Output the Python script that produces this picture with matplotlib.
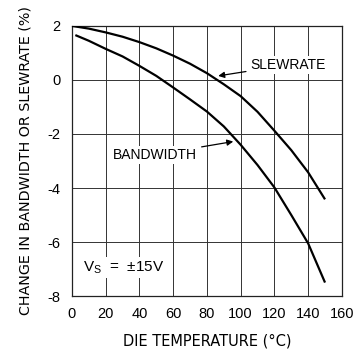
import matplotlib as mpl
mpl.use('agg')
import matplotlib.pyplot as plt

# values
temp_slew = [0, 10, 20, 30, 40, 50, 60, 70, 80, 90, 100, 110, 120, 130, 140, 150]
slewrate = [2.0, 1.9, 1.76, 1.6, 1.4, 1.17, 0.9, 0.6, 0.25, -0.16, -0.6, -1.18, -1.88, -2.6, -3.42, -4.42]

temp_bw = [2, 10, 20, 30, 40, 50, 60, 70, 80, 90, 100, 110, 120, 130, 140, 150]
bandwidth = [1.66, 1.45, 1.15, 0.87, 0.52, 0.15, -0.28, -0.72, -1.17, -1.72, -2.4, -3.15, -3.98, -5.0, -6.05, -7.5]

xticks = [0, 20, 40, 60, 80, 100, 120, 140, 160]
yticks = [2, 0, -2, -4, -6, -8]
ytick_labels = ["2", "0", "-2", "-4", "-6", "-8"]

plt.rc('font', family='Liberation Sans')

fig = plt.figure(figsize=(3.58, 3.55), dpi=100)
ax = fig.add_axes([0.201, 0.166, 0.754, 0.761])

ax.plot(temp_slew, slewrate, color='black', lw=1.6, solid_capstyle='butt', zorder=4)
ax.plot(temp_bw, bandwidth, color='black', lw=1.6, solid_capstyle='butt', zorder=4)

ax.set_xlim(0, 160)
ax.set_ylim(-8, 2)
ax.set_xticks(xticks)
ax.set_yticks(yticks)
ax.set_yticklabels(ytick_labels)
ax.tick_params(length=0, labelsize=10.5, colors='black')
ax.tick_params(axis='x', pad=8)
ax.tick_params(axis='y', pad=8)
ax.grid(True, color='#333333', lw=0.7)
for s in ax.spines.values():
    s.set_linewidth(0.9)
    s.set_color('#222222')

box = dict(facecolor='white', edgecolor='none', pad=1.5)
ax.annotate("SLEWRATE", xy=(86.7, 0.15), xytext=(106, 0.56),
            fontsize=10, va='center', ha='left', bbox=box, zorder=5,
            arrowprops=dict(arrowstyle='-|>', color='black', lw=0.9,
                            mutation_scale=9, shrinkA=2, shrinkB=0))
ax.annotate("BANDWIDTH", xy=(95.6, -2.28), xytext=(74, -2.77),
            fontsize=10, va='center', ha='right', bbox=box, zorder=5,
            arrowprops=dict(arrowstyle='-|>', color='black', lw=0.9,
                            mutation_scale=9, shrinkA=2, shrinkB=0))
ax.text(6.5, -6.95, r"V$_\mathregular{S}$  =  ±15V", fontsize=11,
        va='center', ha='left', bbox=box, zorder=5)

ax.set_xlabel("DIE TEMPERATURE (°C)", fontsize=10.5, family='DejaVu Sans', labelpad=9)
ax.set_ylabel("CHANGE IN BANDWIDTH OR SLEWRATE (%)", fontsize=10.3,
              family='DejaVu Sans', labelpad=11)

fig.savefig('out.png', dpi=100)
